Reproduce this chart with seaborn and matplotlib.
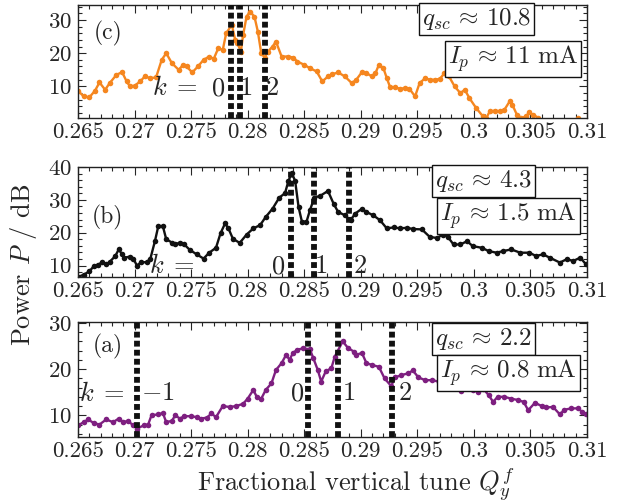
import matplotlib
matplotlib.use("Agg")
import matplotlib.pyplot as plt
import seaborn as sns
from matplotlib.ticker import MultipleLocator

# ---------------- data ----------------
x_c = [0.2650, 0.2655, 0.2660, 0.2665, 0.2669, 0.2674, 0.2678, 0.2684, 0.2689, 0.2693,
       0.2696, 0.2700, 0.2705, 0.2709, 0.2714, 0.2719, 0.2724, 0.2728, 0.2733, 0.2739,
       0.2743, 0.2746, 0.2751, 0.2756, 0.2761, 0.2766, 0.2770, 0.2774, 0.2778, 0.2781,
       0.2786, 0.2789, 0.2791, 0.2794, 0.2796, 0.2799, 0.2802, 0.2806, 0.2809, 0.2812,
       0.2815, 0.2818, 0.2822, 0.2825, 0.2830, 0.2836, 0.2840, 0.2844, 0.2850, 0.2855,
       0.2861, 0.2866, 0.2871, 0.2875, 0.2880, 0.2886, 0.2892, 0.2896, 0.2901, 0.2905,
       0.2910, 0.2913, 0.2916, 0.2920, 0.2923, 0.2926, 0.2930, 0.2935, 0.2939, 0.2943,
       0.2948, 0.2952, 0.2957, 0.2961, 0.2966, 0.2970, 0.2974, 0.2978, 0.2983, 0.2988,
       0.2992, 0.2996, 0.3002, 0.3008, 0.3011, 0.3014, 0.3019, 0.3023, 0.3027, 0.3032,
       0.3034, 0.3038, 0.3042, 0.3046, 0.3049, 0.3052, 0.3057, 0.3066, 0.3078, 0.3092,
       0.3100]
p_c = [8.7, 7.0, 6.7, 8.7, 11.2, 9.0, 11.0, 13.5, 14.3, 11.5,
       10.0, 10.2, 11.5, 13.0, 12.5, 12.7, 18.0, 20.0, 17.0, 15.0,
       16.5, 16.0, 14.2, 16.0, 18.0, 19.0, 18.3, 21.5, 21.0, 26.0,
       28.5, 24.0, 23.0, 20.5, 25.5, 31.0, 32.5, 31.0, 26.5, 20.0,
       18.7, 20.5, 22.0, 23.5, 19.0, 19.0, 18.7, 17.5, 16.5, 15.5,
       14.5, 11.5, 13.0, 13.7, 14.2, 13.0, 11.0, 12.0, 14.3, 14.0,
       13.0, 14.0, 16.5, 15.5, 12.5, 9.7, 9.7, 9.3, 9.5, 9.3,
       7.0, 11.0, 12.5, 12.0, 12.0, 12.3, 14.0, 13.0, 10.0, 8.0,
       9.0, 6.5, 3.5, 1.0, 0.5, 2.5, 2.7, 2.5, 3.0, 5.7,
       4.5, 1.5, 0.5, 1.0, 2.2, 1.5, 0.6, -3.0, -4.0, 0.6,
       -3.0]

x_b = [0.2650, 0.2655, 0.2660, 0.2664, 0.2668, 0.2671, 0.2675, 0.2678, 0.2683, 0.2686,
       0.2689, 0.2691, 0.2696, 0.2699, 0.2702, 0.2706, 0.2711, 0.2714, 0.2718, 0.2721,
       0.2725, 0.2728, 0.2733, 0.2736, 0.2740, 0.2744, 0.2749, 0.2755, 0.2761, 0.2766,
       0.2772, 0.2776, 0.2780, 0.2783, 0.2787, 0.2793, 0.2799, 0.2805, 0.2811, 0.2816,
       0.2822, 0.2828, 0.2833, 0.2836, 0.2839, 0.2842, 0.2845, 0.2848, 0.2852, 0.2855,
       0.2859, 0.2864, 0.2871, 0.2876, 0.2880, 0.2886, 0.2891, 0.2895, 0.2901, 0.2905,
       0.2911, 0.2917, 0.2923, 0.2929, 0.2935, 0.2941, 0.2946, 0.2954, 0.2961, 0.2967,
       0.2973, 0.2977, 0.2982, 0.2988, 0.2994, 0.2999, 0.3007, 0.3013, 0.3020, 0.3026,
       0.3033, 0.3041, 0.3049, 0.3055, 0.3061, 0.3067, 0.3076, 0.3082, 0.3088, 0.3094,
       0.3099]
p_b = [6.5, 7.2, 8.2, 9.8, 10.2, 11.0, 10.4, 11.1, 12.9, 14.9,
       13.4, 12.4, 12.7, 12.1, 10.0, 11.0, 11.0, 12.1, 17.4, 22.0,
       22.0, 18.0, 17.0, 16.4, 17.0, 16.4, 14.7, 13.4, 12.1, 13.9,
       15.4, 19.8, 22.8, 21.3, 18.1, 16.9, 19.4, 21.3, 22.3, 24.8,
       27.3, 30.7, 32.0, 35.7, 38.2, 35.7, 27.8, 23.3, 23.3, 26.8,
       30.7, 31.2, 32.7, 28.8, 26.3, 25.3, 23.8, 25.8, 27.3, 26.3,
       25.3, 23.8, 21.3, 21.6, 21.3, 21.5, 21.1, 21.0, 18.7, 18.4,
       19.4, 18.7, 16.4, 16.4, 17.4, 15.9, 15.4, 14.4, 13.9, 14.4,
       14.9, 13.9, 13.9, 12.9, 13.4, 12.4, 10.9, 11.9, 11.4, 12.4,
       10.4]

x_a = [0.2650, 0.2655, 0.2659, 0.2664, 0.2669, 0.2675, 0.2681, 0.2686, 0.2690, 0.2694,
       0.2699, 0.2702, 0.2708, 0.2712, 0.2715, 0.2721, 0.2725, 0.2728, 0.2733, 0.2736,
       0.2740, 0.2744, 0.2750, 0.2755, 0.2759, 0.2764, 0.2768, 0.2772, 0.2778, 0.2784,
       0.2790, 0.2796, 0.2800, 0.2805, 0.2808, 0.2812, 0.2816, 0.2821, 0.2825, 0.2830,
       0.2834, 0.2837, 0.2840, 0.2844, 0.2849, 0.2855, 0.2858, 0.2862, 0.2865, 0.2869,
       0.2874, 0.2877, 0.2884, 0.2889, 0.2894, 0.2896, 0.2901, 0.2905, 0.2910, 0.2916,
       0.2921, 0.2927, 0.2930, 0.2936, 0.2942, 0.2946, 0.2951, 0.2957, 0.2963, 0.2969,
       0.2974, 0.2979, 0.2985, 0.2989, 0.2995, 0.2999, 0.3004, 0.3008, 0.3013, 0.3017,
       0.3021, 0.3027, 0.3033, 0.3039, 0.3044, 0.3048, 0.3054, 0.3060, 0.3064, 0.3070,
       0.3076, 0.3080, 0.3086, 0.3092, 0.3096, 0.3099]
p_a = [7.8, 8.5, 9.1, 8.3, 8.0, 9.1, 8.5, 9.3, 8.5, 8.8,
       7.8, 7.1, 7.8, 8.0, 10.0, 10.2, 10.5, 8.5, 8.8, 10.0,
       9.3, 9.8, 9.8, 9.6, 9.3, 9.5, 10.4, 9.6, 12.0, 11.8,
       12.0, 12.5, 13.6, 15.5, 14.0, 13.6, 15.5, 16.9, 19.8, 21.3,
       23.1, 22.0, 23.5, 24.2, 24.5, 24.3, 22.4, 19.8, 17.3, 19.5,
       20.2, 22.7, 26.0, 24.5, 23.8, 23.1, 23.5, 21.3, 20.9, 20.5,
       18.0, 16.3, 18.2, 18.7, 19.1, 19.7, 18.2, 17.6, 17.6, 17.3,
       18.2, 16.9, 16.3, 15.3, 16.5, 15.5, 15.1, 15.8, 14.4, 12.9,
       14.0, 14.0, 13.6, 13.3, 12.9, 11.1, 12.7, 12.0, 11.7, 11.8,
       10.2, 11.2, 11.5, 11.5, 10.7, 10.2]

k_lines_c = [0.2785, 0.2793, 0.2815]
k_lines_b = [0.2838, 0.2859, 0.2890]
k_lines_a = [0.2702, 0.2853, 0.2880, 0.2928]

panel_tags = ["(c)", "(b)", "(a)"]
q_labels = [r"$q_{sc} \,\approx\, 10.8$", r"$q_{sc} \,\approx\, 4.3$", r"$q_{sc} \,\approx\, 2.2$"]
i_labels = [r"$I_p \,\approx\, 11\ \mathrm{mA}$", r"$I_p \,\approx\, 1.5\ \mathrm{mA}$",
            r"$I_p \,\approx\, 0.8\ \mathrm{mA}$"]
x_ticks = [0.265, 0.27, 0.275, 0.28, 0.285, 0.29, 0.295, 0.3, 0.305, 0.31]
x_tick_labels = ["0.265", "0.27", "0.275", "0.28", "0.285", "0.29", "0.295", "0.3", "0.305", "0.31"]

# ---------------- style ----------------
sns.set_style("ticks")
plt.rcParams["font.family"] = ["cmr10", "DejaVu Serif"]
plt.rcParams["mathtext.fontset"] = "cm"
plt.rcParams["axes.unicode_minus"] = False
plt.rcParams["axes.formatter.use_mathtext"] = True

FS = 16.5
colors = ["#F5861F", "#111111", "#7E1F80"]

fig = plt.figure(figsize=(6.27, 5.04), dpi=100)
W, H = 627.0, 504.0
L, R = 78, 587
boxes = [(5, 118), (167, 277), (322, 437)]
axes = []
for (top, bot) in boxes:
    ax = fig.add_axes([L / W, 1 - bot / H, (R - L) / W, (bot - top) / H])
    axes.append(ax)

series = [(x_c, p_c), (x_b, p_b), (x_a, p_a)]
ylims = [(0.5, 34.5), (6.5, 40), (5.3, 30.2)]
yticks = [[10, 20, 30], [10, 20, 30, 40], [10, 20, 30]]
klines = [k_lines_c, k_lines_b, k_lines_a]

for i, ax in enumerate(axes):
    xs, ys = series[i]
    sns.lineplot(x=xs, y=ys, ax=ax, color=colors[i], lw=1.7, marker="o",
                 markersize=4, markeredgewidth=0, sort=False, clip_on=True)
    for kx in klines[i]:
        ax.axvline(kx, color="#111111", lw=4.2, ls=(0, (1.0, 0.55)),
                   dash_capstyle="butt", zorder=3)
    ax.set_xlim(0.265, 0.31)
    ax.set_ylim(*ylims[i])
    ax.set_xticks(x_ticks)
    ax.set_xticklabels(x_tick_labels)
    ax.set_yticks(yticks[i])
    ax.xaxis.set_minor_locator(MultipleLocator(0.001))
    ax.yaxis.set_minor_locator(MultipleLocator(2))
    ax.tick_params(which="both", direction="in", top=True, right=True,
                   labelsize=FS, width=0.8)
    ax.tick_params(axis="x", pad=3)
    ax.tick_params(axis="y", pad=4)
    ax.tick_params(which="major", length=6)
    ax.tick_params(which="minor", length=3)
    for s in ax.spines.values():
        s.set_linewidth(1.0)
        s.set_color("#222222")
    ax.set_xlabel("")
    ax.set_ylabel("")

# panel tags
tag_pos = [(0.059, 0.75), (0.057, 0.545), (0.059, 0.79)]
for ax, t, (px, py) in zip(axes, panel_tags, tag_pos):
    ax.text(px, py, t, transform=ax.transAxes, fontsize=17, ha="center", va="center")

# boxes
BF = 18
bbox = dict(boxstyle="square,pad=0.12", fc="white", ec="#111111", lw=1.0)
q_pos = [(0.783, 0.876), (0.797, 0.873), (0.797, 0.852)]
i_pos = [(0.855, 0.522), (0.846, 0.555), (0.846, 0.557)]
for ax, q, ip, qp, ipp in zip(axes, q_labels, i_labels, q_pos, i_pos):
    ax.text(qp[0], qp[1], q, transform=ax.transAxes, fontsize=BF, ha="center",
            va="center", bbox=bbox, zorder=5)
    ax.text(ipp[0], ipp[1], ip, transform=ax.transAxes, fontsize=BF, ha="center",
            va="center", bbox=bbox, zorder=5)

# k labels
axc, axb, axa = axes
KF = 19
axc.text(0.27358, 9.4, r"$k\;=$", fontsize=KF, ha="center", va="center")
axc.text(0.2774, 9.4, "0", fontsize=KF, ha="center", va="center")
axc.text(0.2799, 9.4, "1", fontsize=KF, ha="center", va="center")
axc.text(0.2822, 9.4, "2", fontsize=KF, ha="center", va="center")

axb.text(0.27331, 9.8, r"$k\;=$", fontsize=KF, ha="center", va="center")
axb.text(0.2827, 9.8, "0", fontsize=KF, ha="center", va="center")
axb.text(0.28648, 9.8, "1", fontsize=KF, ha="center", va="center")
axb.text(0.28993, 9.8, "2", fontsize=KF, ha="center", va="center")

axa.text(0.26712, 14.7, r"$k\;=$", fontsize=KF, ha="center", va="center")
axa.text(0.27207, 14.7, r"$-1$", fontsize=KF, ha="center", va="center")
axa.text(0.28445, 14.7, "0", fontsize=KF, ha="center", va="center")
axa.text(0.28896, 14.7, "1", fontsize=KF, ha="center", va="center")
axa.text(0.29391, 14.7, "2", fontsize=KF, ha="center", va="center")

fig.text(0.038, 0.474, r"Power $P$ / dB", rotation=90, fontsize=19,
         ha="center", va="center")
fig.text(0.568, 0.040, r"Fractional vertical tune $Q_y^f$", fontsize=19,
         ha="center", va="center")

fig.savefig("out.png", dpi=100)
